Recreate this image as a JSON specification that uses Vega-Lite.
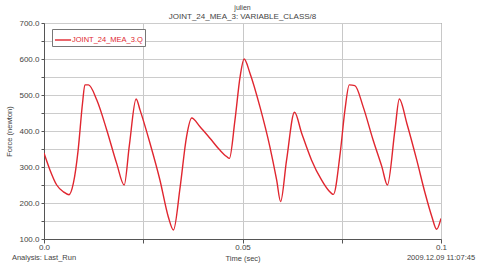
{
  "$schema": "https://vega.github.io/schema/vega-lite/v6.json",
  "width": 397,
  "height": 216,
  "autosize": "none",
  "padding": {"left": 44, "top": 23, "right": 40, "bottom": 25},
  "background": "white",
  "config": {
    "font": "Liberation Sans",
    "view": {"stroke": "#555555", "strokeWidth": 1},
    "axis": {"labelFont": "Liberation Sans", "titleFont": "Liberation Sans", "labelColor": "#444444", "titleColor": "#444444", "labelFontSize": 8, "titleFontSize": 7.5, "titleFontWeight": "normal", "gridColor": "#cccccc", "gridWidth": 1, "domainColor": "#555555", "tickColor": "#555555"}
  },
  "title": {
    "text": "julien",
    "subtitle": "JOINT_24_MEA_3: VARIABLE_CLASS/8",
    "fontSize": 7,
    "subtitleFontSize": 8,
    "fontWeight": "normal",
    "color": "#444444",
    "subtitleColor": "#444444",
    "font": "Liberation Sans",
    "subtitleFont": "Liberation Sans",
    "offset": -2,
    "subtitlePadding": 2,
    "anchor": "middle"
  },
  "datasets": {
    "force": [
      {"t": 0.0, "f": 339, "s": "JOINT_24_MEA_3.Q"},
      {"t": 0.0015, "f": 292, "s": "JOINT_24_MEA_3.Q"},
      {"t": 0.0032, "f": 250, "s": "JOINT_24_MEA_3.Q"},
      {"t": 0.0049, "f": 231, "s": "JOINT_24_MEA_3.Q"},
      {"t": 0.0063, "f": 223, "s": "JOINT_24_MEA_3.Q"},
      {"t": 0.0074, "f": 255, "s": "JOINT_24_MEA_3.Q"},
      {"t": 0.0086, "f": 347, "s": "JOINT_24_MEA_3.Q"},
      {"t": 0.0097, "f": 477, "s": "JOINT_24_MEA_3.Q"},
      {"t": 0.0103, "f": 528, "s": "JOINT_24_MEA_3.Q"},
      {"t": 0.0112, "f": 528, "s": "JOINT_24_MEA_3.Q"},
      {"t": 0.0133, "f": 486, "s": "JOINT_24_MEA_3.Q"},
      {"t": 0.0158, "f": 403, "s": "JOINT_24_MEA_3.Q"},
      {"t": 0.0183, "f": 310, "s": "JOINT_24_MEA_3.Q"},
      {"t": 0.0202, "f": 250, "s": "JOINT_24_MEA_3.Q"},
      {"t": 0.0215, "f": 360, "s": "JOINT_24_MEA_3.Q"},
      {"t": 0.0232, "f": 489, "s": "JOINT_24_MEA_3.Q"},
      {"t": 0.0242, "f": 458, "s": "JOINT_24_MEA_3.Q"},
      {"t": 0.0267, "f": 366, "s": "JOINT_24_MEA_3.Q"},
      {"t": 0.0292, "f": 264, "s": "JOINT_24_MEA_3.Q"},
      {"t": 0.0313, "f": 162, "s": "JOINT_24_MEA_3.Q"},
      {"t": 0.0326, "f": 125, "s": "JOINT_24_MEA_3.Q"},
      {"t": 0.0343, "f": 245, "s": "JOINT_24_MEA_3.Q"},
      {"t": 0.0359, "f": 384, "s": "JOINT_24_MEA_3.Q"},
      {"t": 0.0372, "f": 436, "s": "JOINT_24_MEA_3.Q"},
      {"t": 0.0393, "f": 412, "s": "JOINT_24_MEA_3.Q"},
      {"t": 0.0418, "f": 380, "s": "JOINT_24_MEA_3.Q"},
      {"t": 0.0443, "f": 347, "s": "JOINT_24_MEA_3.Q"},
      {"t": 0.046, "f": 329, "s": "JOINT_24_MEA_3.Q"},
      {"t": 0.0467, "f": 324, "s": "JOINT_24_MEA_3.Q"},
      {"t": 0.0481, "f": 430, "s": "JOINT_24_MEA_3.Q"},
      {"t": 0.0494, "f": 551, "s": "JOINT_24_MEA_3.Q"},
      {"t": 0.0504, "f": 600, "s": "JOINT_24_MEA_3.Q"},
      {"t": 0.0519, "f": 560, "s": "JOINT_24_MEA_3.Q"},
      {"t": 0.0544, "f": 467, "s": "JOINT_24_MEA_3.Q"},
      {"t": 0.0569, "f": 356, "s": "JOINT_24_MEA_3.Q"},
      {"t": 0.0586, "f": 264, "s": "JOINT_24_MEA_3.Q"},
      {"t": 0.0596, "f": 204, "s": "JOINT_24_MEA_3.Q"},
      {"t": 0.0611, "f": 319, "s": "JOINT_24_MEA_3.Q"},
      {"t": 0.0631, "f": 452, "s": "JOINT_24_MEA_3.Q"},
      {"t": 0.0649, "f": 394, "s": "JOINT_24_MEA_3.Q"},
      {"t": 0.0674, "f": 319, "s": "JOINT_24_MEA_3.Q"},
      {"t": 0.0699, "f": 264, "s": "JOINT_24_MEA_3.Q"},
      {"t": 0.0716, "f": 236, "s": "JOINT_24_MEA_3.Q"},
      {"t": 0.0729, "f": 224, "s": "JOINT_24_MEA_3.Q"},
      {"t": 0.0746, "f": 338, "s": "JOINT_24_MEA_3.Q"},
      {"t": 0.0758, "f": 458, "s": "JOINT_24_MEA_3.Q"},
      {"t": 0.0769, "f": 528, "s": "JOINT_24_MEA_3.Q"},
      {"t": 0.0783, "f": 526, "s": "JOINT_24_MEA_3.Q"},
      {"t": 0.0804, "f": 467, "s": "JOINT_24_MEA_3.Q"},
      {"t": 0.0829, "f": 375, "s": "JOINT_24_MEA_3.Q"},
      {"t": 0.0851, "f": 301, "s": "JOINT_24_MEA_3.Q"},
      {"t": 0.0865, "f": 250, "s": "JOINT_24_MEA_3.Q"},
      {"t": 0.0884, "f": 403, "s": "JOINT_24_MEA_3.Q"},
      {"t": 0.0895, "f": 489, "s": "JOINT_24_MEA_3.Q"},
      {"t": 0.0914, "f": 421, "s": "JOINT_24_MEA_3.Q"},
      {"t": 0.0939, "f": 319, "s": "JOINT_24_MEA_3.Q"},
      {"t": 0.096, "f": 227, "s": "JOINT_24_MEA_3.Q"},
      {"t": 0.0977, "f": 162, "s": "JOINT_24_MEA_3.Q"},
      {"t": 0.0989, "f": 127, "s": "JOINT_24_MEA_3.Q"},
      {"t": 0.1, "f": 157, "s": "JOINT_24_MEA_3.Q"}
    ],
    "notes": [
      {"t": 0.0, "f": 100, "label": "Analysis:  Last_Run", "side": "left"},
      {"t": 0.1, "f": 100, "label": "2009.12.09 11:07:45", "side": "right"}
    ]
  },
  "layer": [
    {
      "data": {"name": "force"},
      "mark": {"type": "line", "strokeWidth": 1.4, "interpolate": "monotone", "clip": true},
      "encoding": {
        "x": {
          "field": "t", "type": "quantitative",
          "scale": {"domain": [0, 0.1], "nice": false, "zero": false},
          "axis": {
            "title": "Time (sec)", "titleY": 15, "titlePadding": 0,
            "values": [0, 0.025, 0.05, 0.075, 0.1], "tickCount": 20,
            "labelExpr": "datum.value == 0 ? '0.0' : (datum.value == 0.05 ? '0.05' : (datum.value == 0.1 ? '0.1' : ''))",
            "tickSize": 4, "labelPadding": 0, "labelFlush": false, "labelOverlap": false, "gridColor": "#c8c8c8"
          }
        },
        "y": {
          "field": "f", "type": "quantitative",
          "scale": {"domain": [100, 700], "nice": false, "zero": false},
          "axis": {
            "title": "Force (newton)", "titleX": -31,
            "values": [100, 150, 200, 250, 300, 350, 400, 450, 500, 550, 600, 650, 700], "tickCount": 30,
            "labelExpr": "datum.value % 100 == 0 ? format(datum.value, '.1f') : ''",
            "tickSize": 3, "labelPadding": 2, "labelFlush": false, "labelOverlap": false
          }
        },
        "color": {
          "field": "s", "type": "nominal",
          "scale": {"range": ["#e0262f"]},
          "legend": {
            "title": null, "orient": "none", "legendX": 8, "legendY": 6,
            "symbolType": "stroke", "symbolSize": 260, "symbolStrokeWidth": 1.4,
            "labelColor": "#e0262f", "labelFontSize": 7.5, "labelFont": "Liberation Sans",
            "strokeColor": "#777777", "fillColor": "white", "padding": 2, "labelOffset": 0
          }
        }
      }
    },
    {
      "data": {"name": "notes"},
      "mark": {"type": "text", "fontSize": 7.5, "color": "#444444", "dy": 19, "baseline": "middle", "font": "Liberation Sans"},
      "encoding": {
        "x": {"field": "t", "type": "quantitative"},
        "y": {"field": "f", "type": "quantitative"},
        "text": {"field": "label"},
        "align": {"condition": {"test": "datum.side == 'left'", "value": "center"}, "value": "right"},
        "dx": {"condition": {"test": "datum.side == 'left'", "value": 1}, "value": 32}
      }
    }
  ]
}
